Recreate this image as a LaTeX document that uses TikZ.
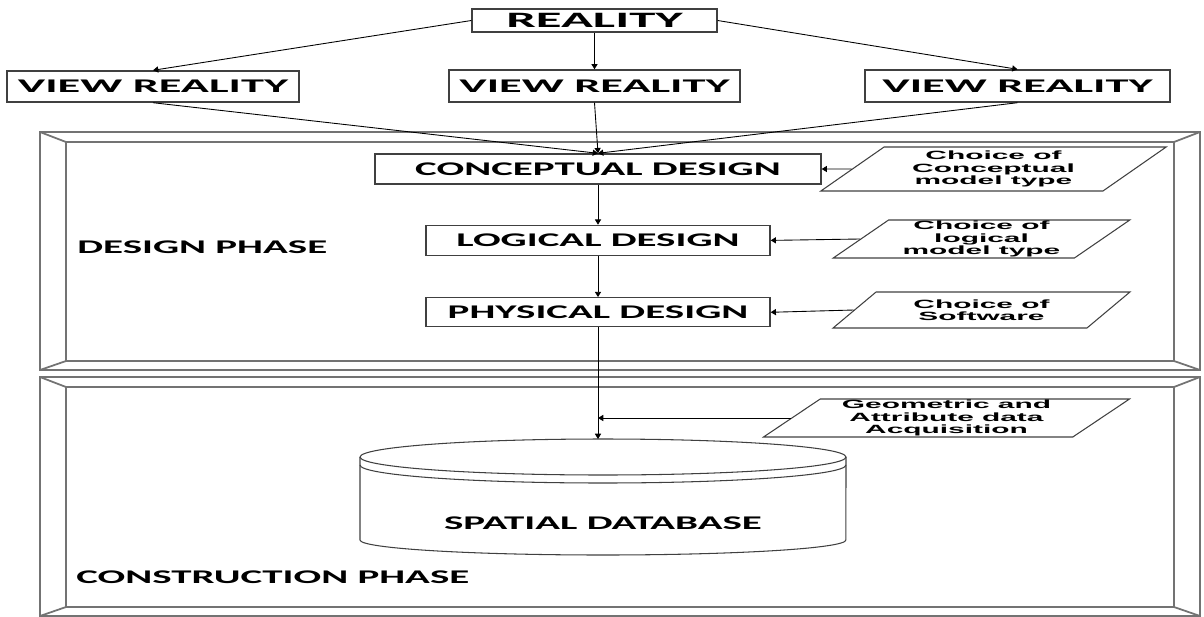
\documentclass[tikz,border=0pt]{standalone}
\usepackage{fontspec}
\newfontfamily\boxfont[FakeStretch=2.12]{Carlito}
\newfontfamily\headfont[FakeStretch=2.4]{Carlito}
\newfontfamily\notefont[FakeStretch=2.5]{Liberation Sans}
\usetikzlibrary{arrows.meta,positioning,shapes.geometric,calc}

\begin{document}
\begin{tikzpicture}[
  x=0.02cm, y=-0.02cm,
  node distance=0.8cm,
  box/.style={draw=black!75, line width=0.8pt, inner sep=0pt, minimum height=0.6cm,
    font=\boxfont\bfseries\fontsize{11}{13}\selectfont},
  head/.style={box, font=\headfont\bfseries\fontsize{11}{13}\selectfont},
  choice/.style={draw=black!75, line width=0.6pt, trapezium, trapezium left angle=37,
    trapezium right angle=143, trapezium stretches=true, inner sep=0pt, align=center,
    font=\notefont\bfseries\fontsize{6.8}{6.9}\selectfont},
  phase/.style={anchor=west, inner sep=0pt, font=\boxfont\bfseries\fontsize{11}{13}\selectfont},
  frame/.style={draw=black!55, line width=1pt},
  dbline/.style={draw=black!75, line width=0.6pt},
  arr/.style={-{Triangle[length=3pt,width=3.5pt]}, line width=0.5pt}
]
\useasboundingbox (0,0) rectangle (1204,616);
% design phase frame
\draw[frame] (40,132) rectangle (1200,370);
\draw[frame] (66,142) rectangle (1174,361);
\draw[frame] (40,132) -- (66,142) (1200,132) -- (1174,142)
  (40,370) -- (66,361) (1200,370) -- (1174,361);
% construction phase frame
\draw[frame] (40,377) rectangle (1200,616);
\draw[frame] (66,387) rectangle (1174,607);
\draw[frame] (40,377) -- (66,387) (1200,377) -- (1174,387)
  (40,616) -- (66,607) (1200,616) -- (1174,607);
\node[phase] (design) at (77,247) {DESIGN PHASE};
\node[phase] (construct) at (76,577) {CONSTRUCTION PHASE};

\node[head, minimum width=4.9cm, minimum height=0.46cm, font=\headfont\bfseries\fontsize{12.5}{14}\selectfont] (real) at (594.5,20.5) {REALITY};
\node[head, minimum width=5.84cm, minimum height=0.62cm] (view1) at (153,86.5) {VIEW REALITY};
\node[head, minimum width=5.82cm, minimum height=0.64cm] (view2) at (594.5,86) {VIEW REALITY};
\node[head, minimum width=6.1cm, minimum height=0.64cm] (view3) at (1017.5,86) {VIEW REALITY};
\node[box, minimum width=8.92cm] (concept) at (598,169) {CONCEPTUAL DESIGN};
\node[box, minimum width=6.88cm, below=of concept] (logical) {LOGICAL DESIGN};
\node[box, minimum width=6.88cm, minimum height=0.58cm, below=0.82cm of logical] (physical) {PHYSICAL DESIGN};

\node[choice, minimum width=6.92cm, minimum height=0.88cm] (choice1) at (993.5,169) {Choice of\\Conceptual\\model type};
\node[choice, minimum width=5.94cm, minimum height=0.76cm] (choice2) at (981.5,239) {Choice of\\logical\\model type};
\node[choice, minimum width=5.94cm, minimum height=0.72cm] (choice3) at (981.5,310) {Choice of\\Software};
\node[choice, minimum width=7.34cm, minimum height=0.76cm] (choice4) at (946.5,418) {Geometric and\\Attribute data\\Acquisition};

% spatial database
\draw[dbline] (603,457) ellipse [x radius=4.86cm, y radius=0.36cm];
\draw[dbline] (360,465) arc[start angle=180, end angle=360, x radius=4.86cm, y radius=0.36cm];
\draw[dbline] (360,457) -- (360,540) arc[start angle=180, end angle=360, x radius=4.86cm, y radius=0.3cm] -- (846,457);
\coordinate (dbtop) at (physical.south |- 0,439);
\node[font=\boxfont\bfseries\fontsize{11}{13}\selectfont] (db) at (603,523) {SPATIAL DATABASE};

\draw[arr] (real.south) -- (view2.north);
\draw[arr] (real.west) -- (view1.north);
\draw[arr] (real.east) -- (view3.north);
\draw[arr] (view1.south) -- (concept.north);
\draw[arr] (view2.south) -- (concept.north);
\draw[arr] (view3.south) -- (concept.north);
\draw[arr] (concept) -- (logical);
\draw[arr] (logical) -- (physical);
\draw[arr] (physical.south) -- (dbtop);
\coordinate (acq) at (choice4.west -| physical.south);
\draw[arr] (choice1.west) -- (concept.east);
\draw[arr] (choice2.west) -- (logical.east);
\draw[arr] (choice3.west) -- (physical.east);
\draw[arr] (choice4.west) -- (acq);
\end{tikzpicture}
\end{document}
